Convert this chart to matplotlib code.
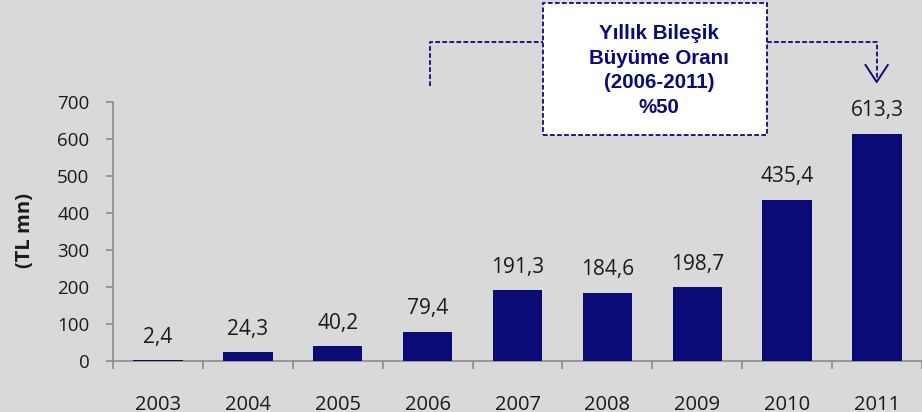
import matplotlib
matplotlib.use("Agg")
import matplotlib.pyplot as plt
from matplotlib.patches import Rectangle
from matplotlib.lines import Line2D

years = ["2003", "2004", "2005", "2006", "2007", "2008", "2009", "2010", "2011"]
values = [2.4, 24.3, 40.2, 79.4, 191.3, 184.6, 198.7, 435.4, 613.3]
value_labels = ["2,4", "24,3", "40,2", "79,4", "191,3", "184,6", "198,7", "435,4", "613,3"]
yticks = [0, 100, 200, 300, 400, 500, 600, 700]
box_lines = ["Yıllık Bileşik", "Büyüme Oranı", "(2006-2011)", "%50"]
ylabel = "(TL mn)"

BG = "#d9d9d9"
NAVY = "#0b0b78"
GRAY = "#8c8c8c"
W, H = 922, 412

plt.rcParams['font.family'] = ['Open Sans', 'DejaVu Sans']
fig = plt.figure(figsize=(W / 100, H / 100), dpi=100, facecolor=BG)

# pixel geometry
x0px, ybot, ytop = 113, 361, 101.7
ax = fig.add_axes([x0px / W, (H - ybot) / H, 1 - x0px / W, (ybot - ytop) / H])
ax.set_facecolor(BG)
cat_w = 90.6
ax.set_xlim(-0.5, (W - x0px) / cat_w - 0.5)
ax.set_ylim(0, 700)

xs = list(range(len(years)))
ax.bar(xs, values, width=0.55, color=NAVY, zorder=3)
for x, v, lab in zip(xs, values, value_labels):
    ax.annotate(lab, (x, v), xytext=(0, 12.5), textcoords="offset points",
                ha="center", va="baseline", fontsize=15, color="#1a1a1a")

for s in ["top", "right"]:
    ax.spines[s].set_visible(False)
for s in ["left", "bottom"]:
    ax.spines[s].set_color(GRAY)
    ax.spines[s].set_linewidth(1.2)

ax.set_yticks(yticks)
ax.set_yticklabels([str(t) for t in yticks])
ax.tick_params(axis="y", length=5, width=1.2, color=GRAY, pad=12, labelsize=13.5, labelcolor="#1a1a1a")

ax.set_xticks(xs)
ax.set_xticklabels(years)
ax.tick_params(axis="x", which="major", length=0, pad=24.5, labelsize=14.5, labelcolor="#1a1a1a")
ax.set_xticks([i - 0.5 for i in range(len(years) + 1)], minor=True)
ax.tick_params(axis="x", which="minor", length=6, width=1.2, color=GRAY)

fig.text(25 / W, (H - 231) / H, ylabel, rotation=90, ha="center", va="center",
         fontsize=14.5, fontweight="bold", color="#1a1a1a")

# bracket, box and arrow (pixel -> data conversion)
def dx(px):
    return (px - x0px) / cat_w - 0.5

def dy(py):
    return (ybot - py) / ((ybot - ytop) / 700)

dash = (0, (2.6, 1.3))
kw = dict(color=NAVY, lw=1.3, linestyle=dash, clip_on=False, zorder=5)
ax.add_line(Line2D([dx(432.3), dx(432.3), dx(546)], [dy(86), dy(41.7), dy(41.7)], **kw))
ax.add_line(Line2D([dx(772), dx(882.7), dx(882.7)], [dy(41.7), dy(41.7), dy(80)], **kw))
ax.add_line(Line2D([dx(871.5), dx(882.7), dx(893.9)], [dy(65), dy(82), dy(65)],
                   color=NAVY, lw=1.4, clip_on=False, zorder=5))
ax.add_patch(Rectangle((dx(546), dy(135)), dx(772) - dx(546), dy(3) - dy(135),
                       facecolor="white", edgecolor=NAVY, lw=1.3, linestyle=dash,
                       clip_on=False, zorder=6))
baselines = [39, 63.5, 88, 113]
for line, b in zip(box_lines, baselines):
    fig.text(659 / W, (H - b) / H, line, ha="center", va="baseline",
             fontsize=14.8, fontweight="bold", color=NAVY, family="Liberation Sans", zorder=7)

fig.savefig("out.png", dpi=100, facecolor=BG)
